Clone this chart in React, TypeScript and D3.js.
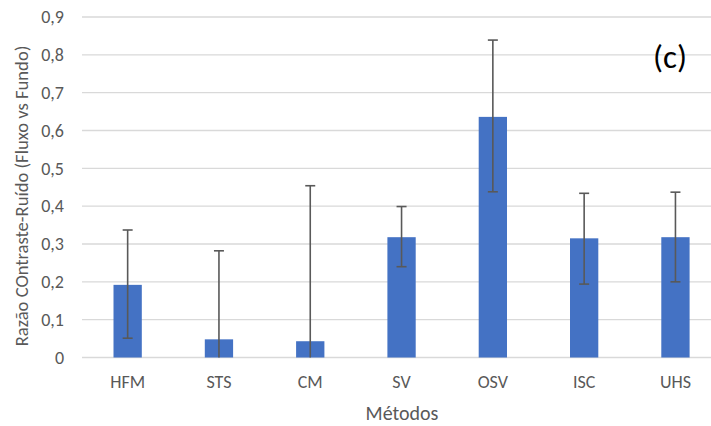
import React from "react";
import * as d3 from "d3";

const categories = ["HFM", "STS", "CM", "SV", "OSV", "ISC", "UHS"];
const values = [0.192, 0.048, 0.043, 0.318, 0.636, 0.315, 0.318];
const errLow = [0.051, 0, 0, 0.240, 0.438, 0.194, 0.200];
const errHigh = [0.337, 0.282, 0.454, 0.399, 0.839, 0.434, 0.437];
const yTicks = [0, 0.1, 0.2, 0.3, 0.4, 0.5, 0.6, 0.7, 0.8, 0.9];

const W = 711;
const H = 426;
const left = 82;
const top = 17;
const bottom = 357.5;
const step = 91.3;

export default function App() {
  const x = d3
    .scaleBand<string>()
    .domain(categories)
    .range([left, left + step * categories.length])
    .paddingInner(0.69)
    .paddingOuter(0.345);
  const y = d3.scaleLinear().domain([0, 0.9]).range([bottom, top]);
  const fmt = (v: number) => (v === 0 ? "0" : d3.format(".1f")(v).replace(".", ","));
  const font = "Calibri, Carlito, 'Open Sans', sans-serif";
  const gray = "#595959";

  return (
    <svg width={W} height={H} style={{ position: "absolute", left: 0, top: 0 }} fontFamily={font}>
      <rect width={W} height={H} fill="#fff" />
      {yTicks.map((t) => (
        <g key={t}>
          <line x1={left} x2={W} y1={y(t)} y2={y(t)} stroke="#d9d9d9" strokeWidth={1.3} />
          <text x={64} y={y(t)} dy="0.35em" textAnchor="end" fontSize={18} fill={gray}>
            {fmt(t)}
          </text>
        </g>
      ))}
      {categories.map((c, i) => {
        const bx = x(c)!;
        const bw = x.bandwidth();
        const cx = bx + bw / 2;
        return (
          <g key={c}>
            <rect x={bx} y={y(values[i])} width={bw} height={y(0) - y(values[i])} fill="#4472c4" />
            <line x1={cx} x2={cx} y1={y(errLow[i])} y2={y(errHigh[i])} stroke="#595959" strokeWidth={1.6} />
            <line x1={cx - 5} x2={cx + 5} y1={y(errHigh[i])} y2={y(errHigh[i])} stroke="#595959" strokeWidth={1.6} />
            {errLow[i] > 0 && (
              <line x1={cx - 5} x2={cx + 5} y1={y(errLow[i])} y2={y(errLow[i])} stroke="#595959" strokeWidth={1.6} />
            )}
            <text x={cx} y={382} dy="0.35em" textAnchor="middle" fontSize={18} fill={gray}>
              {c}
            </text>
          </g>
        );
      })}
      <text x={402} y={413} dy="0.35em" textAnchor="middle" fontSize={20} fill={gray}>
        Métodos
      </text>
      <text
        transform={`translate(21, 196) rotate(-90)`}
        dy="0.35em"
        textAnchor="middle"
        fontSize={18.6}
        fill={gray}
      >
        Razão COntraste-Ruído (Fluxo vs Fundo)
      </text>
      <text x={670} y={56} dy="0.35em" textAnchor="middle" fontSize={33} fill="#000">
        (c)
      </text>
    </svg>
  );
}
